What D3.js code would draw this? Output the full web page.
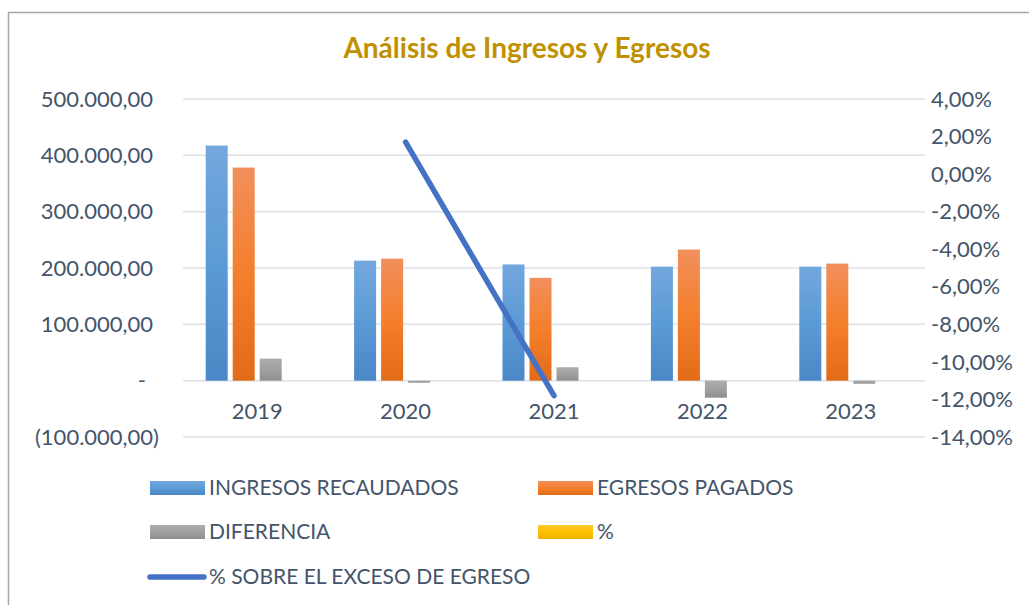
<!DOCTYPE html>
<html><head><meta charset="utf-8">
<script src="https://cdn.jsdelivr.net/npm/d3@7"></script>
<style>body{margin:0;background:#fff;font-family:Lato,"Open Sans",sans-serif;}</style>
</head><body>
<svg id="chart" width="1029" height="605"></svg>
<script>
const categories = ["2019","2020","2021","2022","2023"];
const ingresos  = [417400, 213100, 206300, 202500, 202500];
const egresos   = [378300, 216700, 182500, 232700, 207800];
const diferencia= [39100, -3600, 23800, -30200, -5300];
const pct       = [0.09, -0.02, 0.12, -0.15, -0.03]; // tiny on primary axis, invisible
const exceso    = [null, 1.7, -11.8, null, null];   // % (secondary axis)
const leftTicks = [-100000, 0, 100000, 200000, 300000, 400000, 500000];
const rightTicks= [4,2,0,-2,-4,-6,-8,-10,-12,-14];
const seriesNames = ["INGRESOS RECAUDADOS","EGRESOS PAGADOS","DIFERENCIA","%"];
const lineName = "% SOBRE EL EXCESO DE EGRESO";
const title = "Análisis de Ingresos y Egresos";

const svg = d3.select("#chart");
const W=1029,H=605;
const plot = {l:183, r:925, t:99, b:437};
const textColor = "#44546A";

// frame
svg.append("path").attr("d",`M8.5,${H+5} L8.5,12.5 L${W+5},12.5`).attr("fill","none").attr("stroke","#A6A6A6").attr("stroke-width",1.5);

// gradients
const defs = svg.append("defs");
const grads = [
  ["g0",["#74A7DE","#5B9BD5","#4A87C6"]],
  ["g1",["#F18F5C","#F47F2C","#E26B17"]],
  ["g2",["#ADADAD","#A0A0A0","#8E8E8E"]],
  ["g3",["#FFCB33","#FFC000","#EDB300"]],
];
grads.forEach(([id,c])=>{
  const g=defs.append("linearGradient").attr("id",id).attr("x1",0).attr("y1",0).attr("x2",0).attr("y2",1);
  g.append("stop").attr("offset","0%").attr("stop-color",c[0]);
  g.append("stop").attr("offset","50%").attr("stop-color",c[1]);
  g.append("stop").attr("offset","100%").attr("stop-color",c[2]);
});

const y = d3.scaleLinear().domain([-100000,500000]).range([plot.b,plot.t]);
const y2 = d3.scaleLinear().domain([-14,4]).range([plot.b,plot.t]);
const x0 = d3.scaleBand().domain(categories).range([plot.l,plot.r]);
const x1 = d3.scaleBand().domain(seriesNames).range([0,108]).paddingInner(5/27).paddingOuter(5/54);

// gridlines
svg.append("g").selectAll("line").data(leftTicks).join("line")
  .attr("x1",plot.l).attr("x2",plot.r).attr("y1",d=>y(d)).attr("y2",d=>y(d))
  .attr("stroke","#DCE1E8").attr("stroke-width",1.5);

// left axis labels
const fmtNum = d3.formatLocale({decimal:",",thousands:".",grouping:[3],currency:["",""]}).format(",.2f");
svg.append("g").selectAll("text").data(leftTicks).join("text")
  .attr("x",d=>d<0?159:(d===0?146:153)).attr("y",d=>y(d)).attr("dy","0.35em")
  .attr("text-anchor","end").attr("fill",textColor).style("font-size","22px")
  .text(d=>d===0?"-":(d<0?"("+fmtNum(-d)+")":fmtNum(d)));

// right axis labels
const fmtPct = v => (v<0?"-":"")+d3.format(".2f")(Math.abs(v)).replace(".",",")+"%";
svg.append("g").selectAll("text").data(rightTicks).join("text")
  .attr("x",931).attr("y",d=>y2(d)).attr("dy","0.35em")
  .attr("fill",textColor).style("font-size","22px")
  .text(d=>fmtPct(d));

// bars
const rows = categories.map((c,i)=>({cat:c, vals:[ingresos[i],egresos[i],diferencia[i],pct[i]]}));
const grp = svg.append("g").selectAll("g").data(rows).join("g")
  .attr("transform",d=>`translate(${x0(d.cat)+x0.bandwidth()/2-54},0)`);
grp.selectAll("rect").data(d=>d.vals.map((v,k)=>({k,v}))).join("rect")
  .attr("x",d=>x1(seriesNames[d.k])).attr("width",x1.bandwidth())
  .attr("y",d=>Math.min(y(d.v),y(0))).attr("height",d=>Math.abs(y(d.v)-y(0)))
  .attr("fill",d=>`url(#g${d.k})`);

// category labels
svg.append("g").selectAll("text").data(categories).join("text")
  .attr("x",d=>x0(d)+x0.bandwidth()/2).attr("y",411).attr("dy","0.35em")
  .attr("text-anchor","middle").attr("fill",textColor).style("font-size","22px").text(d=>d);

// line on secondary axis
const line = d3.line().defined(d=>d.v!=null).x(d=>x0(d.c)+x0.bandwidth()/2).y(d=>y2(d.v));
svg.append("path").datum(categories.map((c,i)=>({c,v:exceso[i]})))
  .attr("d",line).attr("fill","none").attr("stroke","#4472C4").attr("stroke-width",5.5)
  .attr("stroke-linecap","round").attr("stroke-linejoin","round");

// title
svg.append("text").attr("x",527).attr("y",58).attr("text-anchor","middle")
  .attr("fill","#BF9000").style("font-size","28px").style("font-weight","bold").text(title);

// legend
const leg = [
  {name:seriesNames[0], g:"g0", x:150, y:488},
  {name:seriesNames[1], g:"g1", x:538, y:488},
  {name:seriesNames[2], g:"g2", x:150, y:532},
  {name:seriesNames[3], g:"g3", x:538, y:532},
];
const lg = svg.append("g");
leg.forEach(d=>{
  lg.append("rect").attr("x",d.x).attr("y",d.y-7).attr("width",55).attr("height",14).attr("fill",`url(#${d.g})`);
  lg.append("text").attr("x",d.x+59).attr("y",d.y).attr("dy","0.35em").attr("fill",textColor)
    .style("font-size","21px").text(d.name);
});
lg.append("line").attr("x1",150).attr("x2",204).attr("y1",577).attr("y2",577)
  .attr("stroke","#4472C4").attr("stroke-width",5.5).attr("stroke-linecap","round");
lg.append("text").attr("x",209).attr("y",577).attr("dy","0.35em").attr("fill",textColor)
  .style("font-size","21px").text(lineName);
</script>
</body></html>
